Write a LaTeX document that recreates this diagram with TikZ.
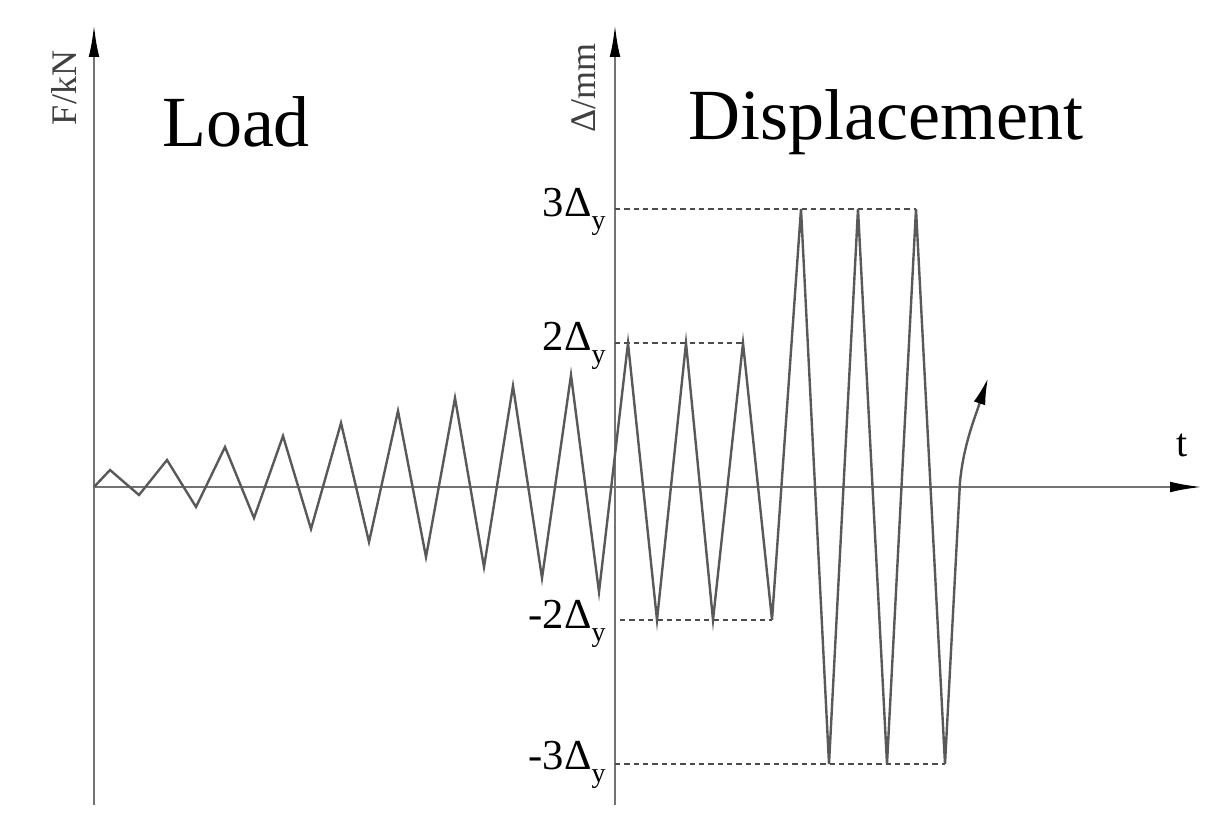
\documentclass[tikz,border=0pt]{standalone}
\usepackage{fontspec}
\usetikzlibrary{arrows.meta}
\setmainfont{Liberation Serif}
\begin{document}
\begin{tikzpicture}[x=0.75pt,y=-0.75pt,
 ax/.style={draw=black!55,line width=1.8pt},
 tip/.style={-{Latex[length=24pt,width=8pt,fill=black,color=black]}},
 wave/.style={draw=black!65,line width=1.8pt,line join=miter},
 dl/.style={draw=black!70,line width=1.2pt,dash pattern=on 4pt off 3pt},
 lbl/.style={font=\fontsize{32}{32}\selectfont,anchor=east,inner sep=0pt},
 big/.style={font=\fontsize{54}{54}\selectfont,inner sep=0pt}]
\useasboundingbox (0,0) rectangle (1222,838);
\coordinate (o) at (94,487);
\coordinate (l0) at (94,805); \coordinate (l1) at (94,25);
\coordinate (r0) at (615,805); \coordinate (r1) at (615,25);
\coordinate (t1) at (1202,487);
\draw[ax,tip] (l0) -- (l1);
\draw[ax,tip] (r0) -- (r1);
\draw[ax,tip] (o) -- (t1);
\draw[dl] (615,209) -- (916,209);
\draw[dl] (615,343) -- (743,343);
\draw[dl] (620,620) -- (772,620);
\draw[dl] (615,764) -- (945,764);
\draw[wave] (o) -- (110,470) -- (139,495) -- (167,460) -- (196,507) -- (225,447) -- (254,518) -- (283,436) -- (311,529) -- (341,423) -- (369,542) -- (398,411) -- (426,557) -- (455,398) -- (484,567) -- (513,386) -- (542,578) -- (571,375) -- (599,592) -- (628,343) -- (657,620) -- (686,343) -- (713,620) -- (743,343) -- (772,620) -- (801,209) -- (829,764) -- (858,209) -- (887,764) -- (916,209) -- (945,764) -- (960,482) .. controls (963,450) and (972,425) .. (978,408);
\coordinate (w1) at (978,408);
\coordinate (w2) at (988,378);
\draw[wave,-{Latex[length=20pt,width=9pt,fill=black,color=black]}] (w1) -- (w2);
\node[lbl] (a3) at (606,212) {3Δ\raisebox{-0.3em}{\fontsize{21}{21}\selectfont y}};
\node[lbl] (a2) at (606,346) {2Δ\raisebox{-0.3em}{\fontsize{21}{21}\selectfont y}};
\node[lbl] (a4) at (606,624) {-2Δ\raisebox{-0.3em}{\fontsize{21}{21}\selectfont y}};
\node[lbl] (a5) at (606,765) {-3Δ\raisebox{-0.3em}{\fontsize{21}{21}\selectfont y}};
\node[big] (ld) at (236,122) {Load};
\node[big] (dp) at (886,122) {Displacement};
\node[font=\fontsize{27}{27}\selectfont,rotate=90,text=black!75,inner sep=0pt] (fk) at (64,88) {F/kN};
\node[font=\fontsize{27}{27}\selectfont,rotate=90,text=black!75,inner sep=0pt] (dm) at (584,88) {Δ/mm};
\node[font=\fontsize{30}{30}\selectfont,inner sep=0pt] (tt) at (1182,445) {t};
\end{tikzpicture}
\end{document}
